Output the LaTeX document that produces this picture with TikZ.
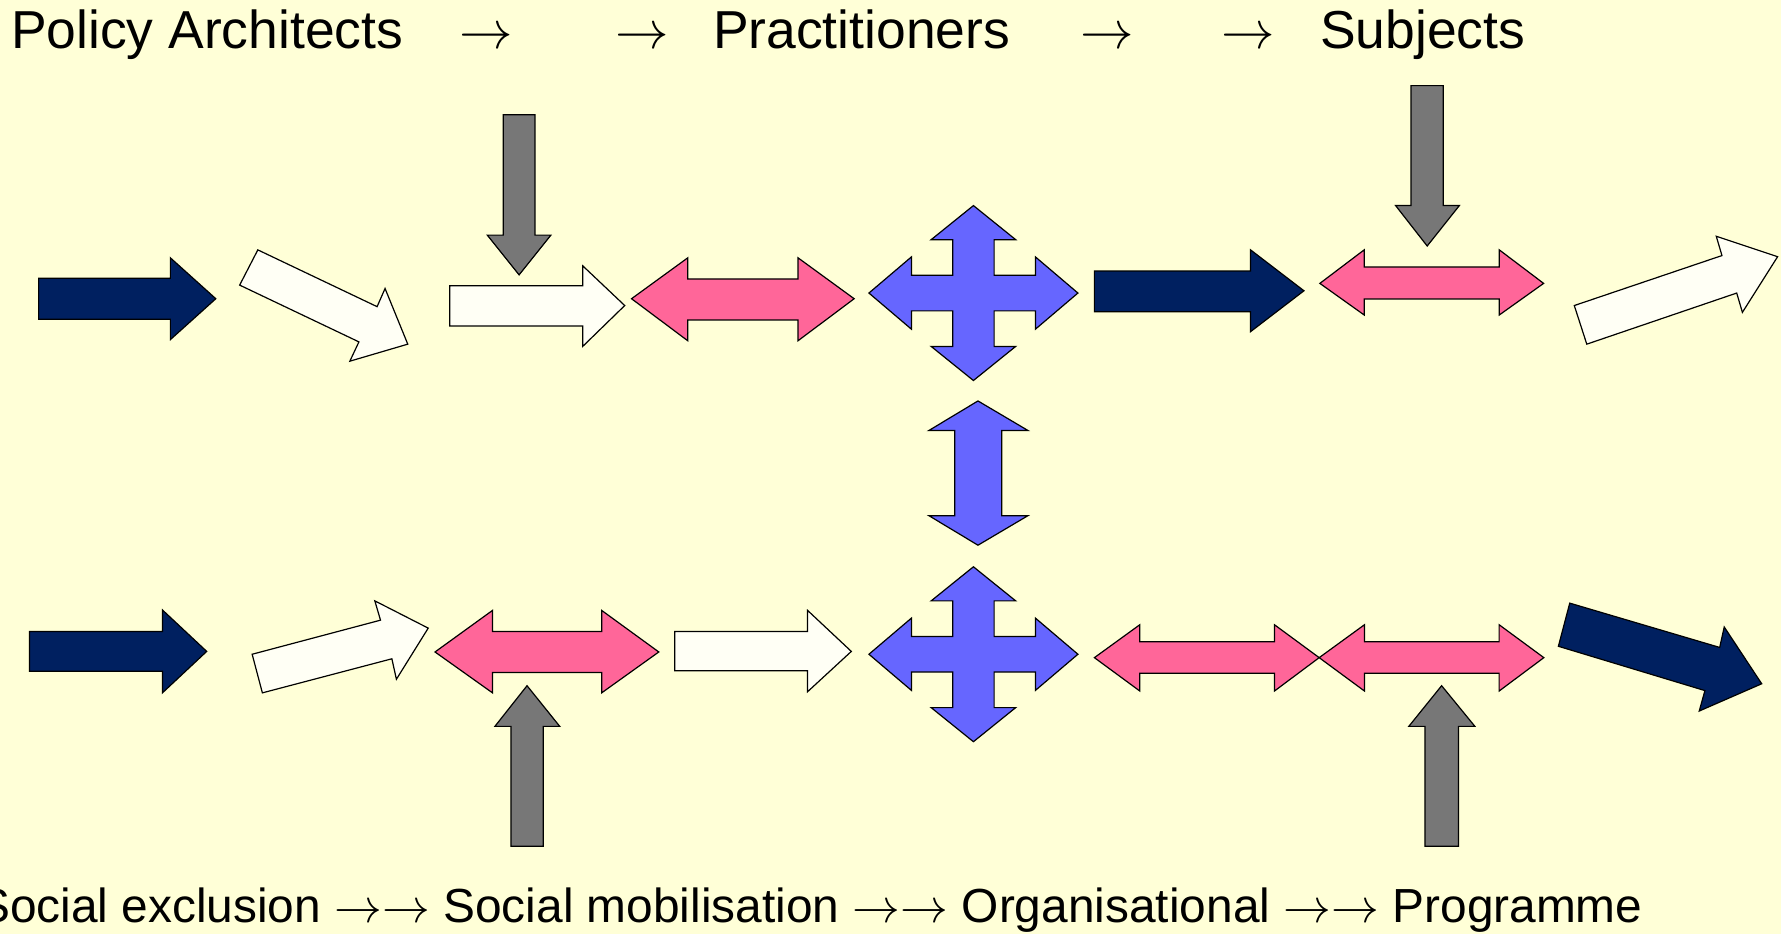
\RequirePackage{fix-cm}
\documentclass[tikz,border=0pt]{standalone}
\usepackage{fontspec}
\setmainfont{Liberation Sans}

\definecolor{bgyellow}{RGB}{255,255,215}
\definecolor{navyfill}{RGB}{0,32,96}
\definecolor{pinkfill}{RGB}{255,102,153}
\definecolor{bluefill}{RGB}{102,102,255}
\definecolor{grayfill}{RGB}{119,119,119}
\definecolor{whitefill}{RGB}{255,255,245}

\begin{document}
\begin{tikzpicture}[x=0.85pt,y=0.85pt,yscale=-1,xscale=1,
    navyarrow/.style={draw=black,line width=0.9pt,fill=navyfill},
    pinkarrow/.style={draw=black,line width=0.9pt,fill=pinkfill},
    bluearrow/.style={draw=black,line width=0.9pt,fill=bluefill},
    grayarrow/.style={draw=black,line width=0.9pt,fill=grayfill},
    whitearrow/.style={draw=black,line width=0.9pt,fill=whitefill},
    toplabel/.style={anchor=base west,inner sep=0pt,font=\fontsize{40}{48}\selectfont},
    toparrow/.style={anchor=base,inner sep=0pt,font=\fontsize{40}{48}\selectfont},
    bottomlabel/.style={anchor=base west,inner sep=0pt,font=\fontsize{35.8}{43}\selectfont}]
    \useasboundingbox (0,0) rectangle (1568,822);
    \fill[bgyellow] (0,0) rectangle (1568,822);

    %Shape: Right Arrow [top row]
    \draw [navyarrow] (34,245) -- (150,245) -- (150,227) -- (190,263) -- (150,299) -- (150,281) -- (34,281) -- cycle ;
    %Shape: Right Arrow (down-right)
    \draw [whitearrow] (227,220) -- (332,270) -- (339,254) -- (359,303) -- (308,318) -- (316,301) -- (211,251) -- cycle ;
    %Shape: Down Arrow
    \draw [grayarrow] (443,101) -- (471,101) -- (471,207) -- (485,207) -- (457,242) -- (429,207) -- (443,207) -- cycle ;
    %Shape: Right Arrow
    \draw [whitearrow] (396,251.5) -- (513,251.5) -- (513,234) -- (550,269) -- (513,305) -- (513,287) -- (396,287) -- cycle ;
    %Shape: Left-Right Arrow
    \draw [pinkarrow] (556,263) -- (605.5,227) -- (605.5,245.6) -- (702.6,245.6) -- (702.6,227) -- (752,263) -- (702.6,300) -- (702.6,281.7) -- (605.5,281.7) -- (605.5,300) -- cycle ;
    %Shape: Quad Arrow
    \draw [bluearrow] (857,181) -- (894.2,211) -- (875.2,211) -- (875.2,242.3) -- (911.6,242.3) -- (911.6,226.2) -- (949,258) -- (911.6,289.8) -- (911.6,273.7) -- (875.2,273.7) -- (875.2,305) -- (894.2,305) -- (857,335) -- (819.8,305) -- (838.8,305) -- (838.8,273.7) -- (802.4,273.7) -- (802.4,289.8) -- (765,258) -- (802.4,226.2) -- (802.4,242.3) -- (838.8,242.3) -- (838.8,211) -- (819.8,211) -- cycle ;
    %Shape: Right Arrow
    \draw [navyarrow] (963.5,238.6) -- (1101,238.6) -- (1101,220) -- (1148,256) -- (1101,292) -- (1101,274.4) -- (963.5,274.4) -- cycle ;
    %Shape: Left-Right Arrow
    \draw [pinkarrow] (1162,249.5) -- (1201,220) -- (1201,235) -- (1320,235) -- (1320,220) -- (1359,249.5) -- (1320,277.3) -- (1320,263.2) -- (1201,263.2) -- (1201,277.3) -- cycle ;
    %Shape: Down Arrow
    \draw [grayarrow] (1242.3,75.4) -- (1270.7,75.4) -- (1270.7,181) -- (1284.8,181) -- (1256.5,216.6) -- (1228.7,181) -- (1242.3,181) -- cycle ;
    %Shape: Right Arrow (up-right)
    \draw [whitearrow] (1386,269) -- (1516,225) -- (1511,208) -- (1565,226) -- (1534,275) -- (1529,258) -- (1397,303) -- cycle ;

    %Shape: Up-Down Arrow
    \draw [bluearrow] (861,353) -- (905,379) -- (882,379) -- (882,454) -- (905,454) -- (861,480) -- (817.8,454) -- (840.6,454) -- (840.6,379) -- (817.8,379) -- cycle ;

    %Shape: Right Arrow [bottom row]
    \draw [navyarrow] (26,556) -- (143,556) -- (143,537) -- (182,573.5) -- (143,610) -- (143,591) -- (26,591) -- cycle ;
    %Shape: Right Arrow (up-right)
    \draw [whitearrow] (222,576) -- (335,546) -- (330,529) -- (377,553) -- (349,598) -- (345,580) -- (231,610) -- cycle ;
    %Shape: Left-Right Arrow
    \draw [pinkarrow] (383,574) -- (433.6,537.4) -- (433.6,556) -- (529.7,556) -- (529.7,537.4) -- (580,574) -- (529.7,610) -- (529.7,592) -- (433.6,592) -- (433.6,610) -- cycle ;
    %Shape: Up Arrow
    \draw [grayarrow] (449.8,745) -- (478.2,745) -- (478.2,639.5) -- (492.8,639.5) -- (464,603.7) -- (435.7,639.5) -- (449.8,639.5) -- cycle ;
    %Shape: Right Arrow
    \draw [whitearrow] (594,556) -- (711,556) -- (711,537.4) -- (749.5,573.5) -- (711,609) -- (711,590.6) -- (594,590.6) -- cycle ;
    %Shape: Quad Arrow
    \draw [bluearrow] (857,499) -- (894.2,529) -- (875.2,529) -- (875.2,560.3) -- (911.6,560.3) -- (911.6,544.2) -- (949,576) -- (911.6,607.8) -- (911.6,591.7) -- (875.2,591.7) -- (875.2,623) -- (894.2,623) -- (857,653) -- (819.8,623) -- (838.8,623) -- (838.8,591.7) -- (802.4,591.7) -- (802.4,607.8) -- (765,576) -- (802.4,544.2) -- (802.4,560.3) -- (838.8,560.3) -- (838.8,529) -- (819.8,529) -- cycle ;
    %Shape: Left-Right Arrow
    \draw [pinkarrow] (963.5,579) -- (1003.5,550) -- (1003.5,565) -- (1122,565) -- (1122,550) -- (1161.4,579) -- (1122,608.4) -- (1122,592.8) -- (1003.5,592.8) -- (1003.5,608.4) -- cycle ;
    %Shape: Left-Right Arrow
    \draw [pinkarrow] (1161.4,579) -- (1201.3,550) -- (1201.3,565) -- (1319.8,565) -- (1319.8,550) -- (1359.2,579) -- (1319.8,608.4) -- (1319.8,592.8) -- (1201.3,592.8) -- (1201.3,608.4) -- cycle ;
    %Shape: Up Arrow
    \draw [grayarrow] (1254.5,745) -- (1284,745) -- (1284,639.5) -- (1298.5,639.5) -- (1269.2,603.7) -- (1240.3,639.5) -- (1254.5,639.5) -- cycle ;
    %Shape: Right Arrow (down-right)
    \draw [navyarrow] (1382,531) -- (1514,570) -- (1518,552) -- (1551,602) -- (1496,626) -- (1501,608) -- (1372,569) -- cycle ;

    % Text Node
    \node [toplabel] (architects) at (9.5,42.5) {Policy Architects};
    % Text Node
    \node [toparrow] (archarrowa) at (428,42.5) {$\rightarrow$};
    % Text Node
    \node [toparrow] (archarrowb) at (565,42.5) {$\rightarrow$};
    % Text Node
    \node [toplabel] (practitioners) at (627.5,42.5) {Practitioners};
    % Text Node
    \node [toparrow] (pracarrowa) at (975,42.5) {$\rightarrow$};
    % Text Node
    \node [toparrow] (pracarrowb) at (1099,42.5) {$\rightarrow$};
    % Text Node
    \node [toplabel] (subjects) at (1162,42.5) {Subjects};
    % Text Node
    \node [bottomlabel] (stages) at (-19.5,812) {Social exclusion $\rightarrow\rightarrow$ Social mobilisation $\rightarrow\rightarrow$ Organisational $\rightarrow\rightarrow$ Programme};
\end{tikzpicture}
\end{document}
